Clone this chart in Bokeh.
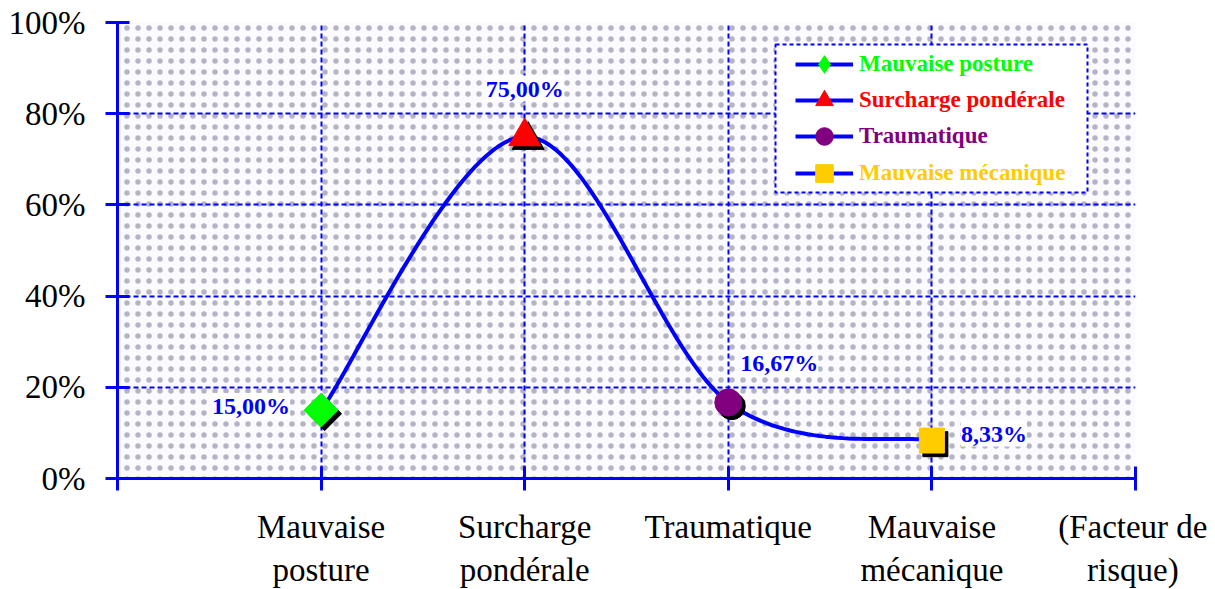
import math
from bokeh.plotting import figure
from bokeh.models import (ColumnDataSource, Range1d, FixedTicker, BoxAnnotation,
                          Legend, LegendItem, LabelSet)
from bokeh.transform import dodge
from bokeh.embed import file_html
from bokeh.resources import INLINE

# ---------------- data ----------------
CATEGORIES = ["Mauvaise posture", "Surcharge pondérale", "Traumatique", "Mauvaise mécanique"]
X_TICK_LABELS = ["", "Mauvaise\nposture", "Surcharge\npondérale", "Traumatique",
                 "Mauvaise\nmécanique", "(Facteur de\nrisque)"]
VALUES = [15.00, 75.00, 16.67, 8.33]
Y_TICKS = [0, 20, 40, 60, 80, 100]
Y_TICK_LABELS = ["0%", "20%", "40%", "60%", "80%", "100%"]

# ---------------- styles ----------------
COLORS = ["#00ff00", "#ff0000", "#800080", "#ffcc00"]
MARKERS = ["square", "triangle", "circle", "square"]
LEGEND_MARKERS = ["diamond", "triangle", "circle", "square"]
ANGLES = [math.pi / 4, 0, 0, 0]
SIZES = [24, 32, 27, 25]
LABEL_DX = [-70, 0, 51, 62]
LABEL_DY = [4, 48, 39, 7]
BLUE = "#0000ff"
FONT = "Liberation Serif"

xs = list(range(1, len(VALUES) + 1))


def smooth(px, py, n=40):
    """Bezier smoothing (Catmull-Rom style) through the data points."""
    P = list(zip(px, py))
    out_x, out_y = [], []
    m = len(P)
    for i in range(m - 1):
        p0 = P[i - 1] if i > 0 else P[i]
        p1 = P[i]
        p2 = P[i + 1]
        p3 = P[i + 2] if i + 2 < m else P[i + 1]
        c1 = (p1[0] + (p2[0] - p0[0]) / 6, p1[1] + (p2[1] - p0[1]) / 6)
        c2 = (p2[0] - (p3[0] - p1[0]) / 6, p2[1] - (p3[1] - p1[1]) / 6)
        for k in range(n + 1):
            if i > 0 and k == 0:
                continue
            t = k / n
            a, b, c, d = (1 - t) ** 3, 3 * (1 - t) ** 2 * t, 3 * (1 - t) * t ** 2, t ** 3
            out_x.append(a * p1[0] + b * c1[0] + c * c2[0] + d * p2[0])
            out_y.append(a * p1[1] + b * c1[1] + c * c2[1] + d * p2[1])
    return out_x, out_y


p = figure(width=1207, height=581, frame_width=1018, frame_height=456,
           x_range=Range1d(0, 5), y_range=Range1d(0, 100),
           output_backend="svg", toolbar_location=None,
           min_border_left=117, min_border_right=72, min_border_top=22, min_border_bottom=103)
p.outline_line_color = None
p.background_fill_color = "white"
p.border_fill_color = "white"

# dotted background pattern
bg = BoxAnnotation(left=0, right=5, bottom=0, top=100, level="image",
                   fill_color="#fbfbff", fill_alpha=1, line_color=None,
                   hatch_pattern="dot", hatch_color="#b4b4c4", hatch_scale=11,
                   hatch_weight=1.0, hatch_alpha=1)
p.add_layout(bg)

# grid
p.xgrid.ticker = FixedTicker(ticks=[1, 2, 3, 4, 5])
p.ygrid.ticker = FixedTicker(ticks=[20, 40, 60, 80, 100])
for g in (p.xgrid, p.ygrid):
    g.grid_line_color = BLUE
    g.grid_line_width = 2
    g.grid_line_dash = "5 3"
    g.level = "underlay"

# axes
for ax in (p.xaxis, p.yaxis):
    ax.axis_line_color = BLUE
    ax.axis_line_width = 3
    ax.major_tick_line_color = BLUE
    ax.major_tick_line_width = 3
    ax.major_tick_in = 12
    ax.major_tick_out = 12
    ax.minor_tick_line_color = None
    ax.major_label_text_font = FONT
    ax.major_label_text_font_size = "33px"
    ax.major_label_text_color = "black"

p.xaxis.ticker = FixedTicker(ticks=list(range(0, 6)))
p.xaxis.major_label_overrides = {i: lab for i, lab in enumerate(X_TICK_LABELS)}
p.xaxis.major_label_standoff = 18
p.yaxis.ticker = FixedTicker(ticks=Y_TICKS)
p.yaxis.major_label_overrides = {t: lab for t, lab in zip(Y_TICKS, Y_TICK_LABELS)}
p.yaxis.major_label_standoff = 20

# curve
cx, cy = smooth(xs, VALUES)
curve = p.line(cx, cy, line_color=BLUE, line_width=4)

# legend swatch renderers (drawn first, hidden beneath the visible markers)
legend_marks = []
for i in range(len(VALUES)):
    r = p.scatter(x=[xs[i]], y=[VALUES[i]], marker=LEGEND_MARKERS[i], size=20,
                  fill_color=COLORS[i], line_color=COLORS[i])
    legend_marks.append(r)

# markers with shadow
src = ColumnDataSource(dict(
    x=xs, y=VALUES, color=COLORS, marker=MARKERS, angle=ANGLES, size=SIZES,
    label=[("%.2f%%" % v).replace(".", ",") for v in VALUES],
    dx=LABEL_DX, dy=LABEL_DY,
))
p.scatter(x=dodge("x", 0.017), y=dodge("y", -0.8), source=src, marker="marker",
          angle="angle", size="size", fill_color="black", line_color="black")
p.scatter(x="x", y="y", source=src, marker="marker", angle="angle", size="size",
          fill_color="color", line_color="color")

labels = LabelSet(x="x", y="y", text="label", source=src, x_offset="dx", y_offset="dy",
                  text_align="center", text_baseline="middle",
                  text_font=FONT, text_font_size="24px", text_font_style="bold",
                  text_color=BLUE, background_fill_color="white")
p.add_layout(labels)

# legend frame
frame_box = BoxAnnotation(left=658, right=970, top=434, bottom=286,
                          left_units="screen", right_units="screen",
                          top_units="screen", bottom_units="screen",
                          fill_color="white", fill_alpha=1,
                          line_color=BLUE, line_alpha=1, line_width=2, line_dash="4 3")
p.add_layout(frame_box)

for i, name in enumerate(CATEGORIES):
    lg = Legend(items=[LegendItem(label=name, renderers=[curve, legend_marks[i]])],
                location=(678, 392 - i * 36.2), border_line_color=None,
                background_fill_alpha=0, padding=0, margin=0, spacing=0,
                glyph_width=58, glyph_height=44, label_height=44, label_standoff=6,
                label_text_font=FONT, label_text_font_size="23px",
                label_text_font_style="bold", label_text_color=COLORS[i])
    p.add_layout(lg, "center")

open("out.html", "w").write(file_html(p, INLINE))
